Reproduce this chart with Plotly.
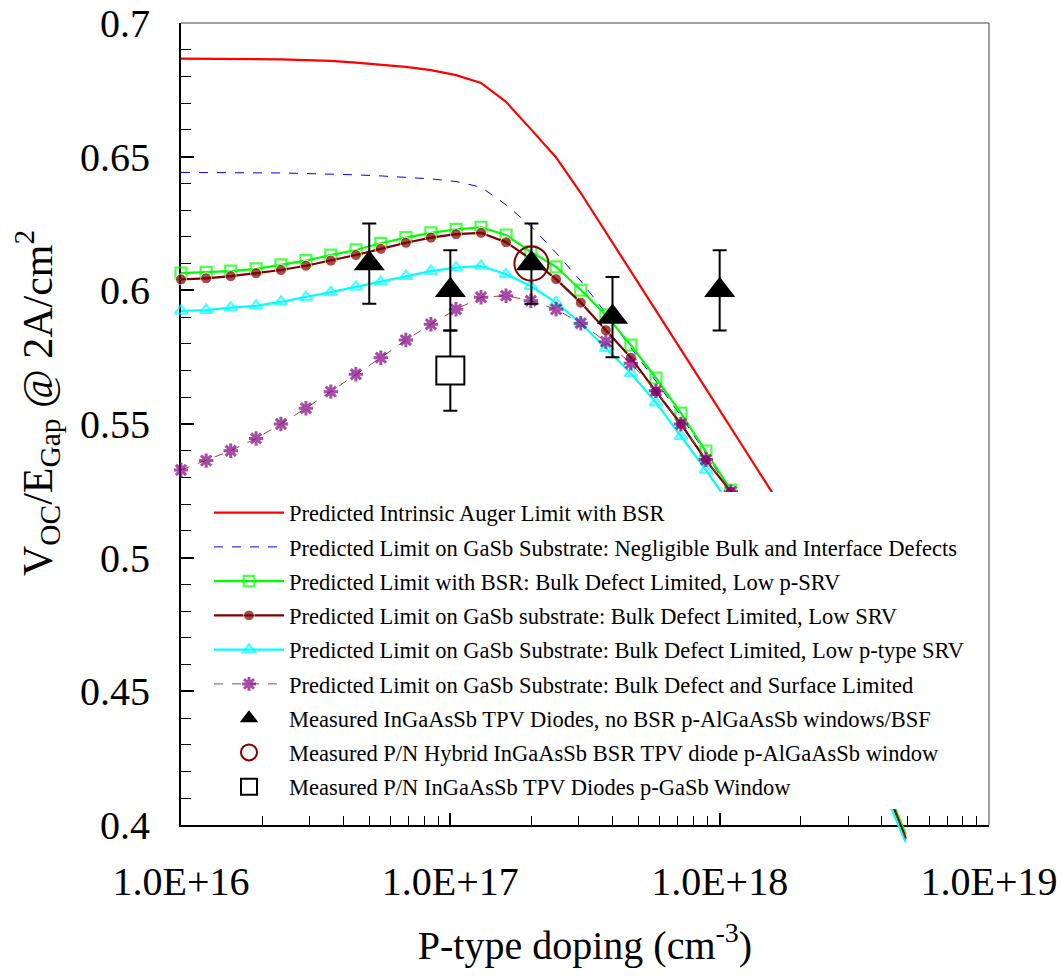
import plotly.graph_objects as go

# ---------------- data ----------------
doping = [1.00e16, 1.24e16, 1.53e16, 1.90e16, 2.35e16, 2.91e16, 3.60e16, 4.46e16,
          5.52e16, 6.84e16, 8.47e16, 1.05e17, 1.30e17, 1.61e17, 1.99e17, 2.47e17,
          3.05e17, 3.78e17, 4.68e17, 5.80e17, 7.18e17, 8.89e17, 1.10e18, 1.36e18,
          1.69e18, 2.09e18, 2.59e18, 3.21e18, 3.97e18, 4.91e18]

auger_bsr = [0.6867, 0.6867, 0.6866, 0.6865, 0.6864, 0.6862, 0.6858, 0.6852,
             0.6845, 0.6836, 0.6824, 0.6805, 0.6776, 0.6705, 0.6603, 0.6497,
             0.6364, 0.6218, 0.6072, 0.5926, 0.5778, 0.5632, 0.5486, 0.5339,
             0.5193, 0.5046]
gasb_negligible = [0.6441, 0.6441, 0.6441, 0.6440, 0.6439, 0.6437, 0.6435, 0.6432,
                   0.6428, 0.6423, 0.6417, 0.6407, 0.6386, 0.6320, 0.6240, 0.6140,
                   0.6035, 0.5915, 0.5785, 0.5660, 0.5530, 0.5390, 0.5245, 0.5095,
                   0.4940, 0.4775, 0.4600, 0.4415, 0.4185, 0.3950]
bsr_bulk_low_psrv = [0.6064, 0.6067, 0.6072, 0.6080, 0.6095, 0.6111, 0.6132, 0.6151,
                     0.6176, 0.6197, 0.6215, 0.6228, 0.6236, 0.6207, 0.6144, 0.6088,
                     0.6001, 0.5908, 0.5795, 0.5672, 0.5541, 0.5399, 0.5253, 0.5100,
                     0.4940, 0.4775, 0.4600, 0.4400, 0.4190, 0.3965]
gasb_bulk_low_srv = [0.6041, 0.6045, 0.6053, 0.6064, 0.6076, 0.6092, 0.6111, 0.6132,
                     0.6155, 0.6178, 0.6197, 0.6210, 0.6215, 0.6180, 0.6117, 0.6042,
                     0.5954, 0.5851, 0.5748, 0.5621, 0.5500, 0.5365, 0.5247, 0.5100,
                     0.4945, 0.4780, 0.4605, 0.4420, 0.4185, 0.3950]
gasb_bulk_low_ptype = [0.5923, 0.5926, 0.5935, 0.5942, 0.5957, 0.5974, 0.5993, 0.6013,
                       0.6032, 0.6053, 0.6072, 0.6085, 0.6091, 0.6060, 0.6016, 0.5954,
                       0.5877, 0.5783, 0.5690, 0.5580, 0.5455, 0.5328, 0.5193, 0.5045,
                       0.4890, 0.4720, 0.4540, 0.4350, 0.4150, 0.3935]
gasb_bulk_surface = [0.5328, 0.5363, 0.5400, 0.5446, 0.5500, 0.5559, 0.5621, 0.5686,
                     0.5748, 0.5814, 0.5873, 0.5929, 0.5974, 0.5980, 0.5961, 0.5929,
                     0.5877, 0.5808, 0.5727, 0.5624, 0.5500, 0.5367, 0.5247, 0.5100,
                     0.4945, 0.4780, 0.4600, 0.4410, 0.4180, 0.3945]

meas_tri_x = [5e16, 1e17, 2e17, 4e17, 1e18]
meas_tri_y = [0.61, 0.60, 0.61, 0.59, 0.60]
meas_tri_err = [0.015, 0.015, 0.015, 0.015, 0.015]
meas_circ_x = [2e17]
meas_circ_y = [0.61]
meas_sq_x = [1e17]
meas_sq_y = [0.57]
meas_sq_err = [0.015]

x_tickvals = [1e16, 1e17, 1e18, 1e19]
x_ticktext = ["1.0E+16", "1.0E+17", "1.0E+18", "1.0E+19"]
y_tickvals = [0.4, 0.45, 0.5, 0.55, 0.6, 0.65, 0.7]
y_ticktext = ["0.4", "0.45", "0.5", "0.55", "0.6", "0.65", "0.7"]

x_title = "P-type doping (cm<sup>-3</sup>)"
y_title = "V<sub>OC</sub>/E<sub>Gap</sub> @ 2A/cm<sup>2</sup>"

names = [
    "Predicted Intrinsic Auger Limit with BSR",
    "Predicted Limit on GaSb Substrate: Negligible Bulk and Interface Defects",
    "Predicted Limit with BSR: Bulk Defect Limited, Low p-SRV",
    "Predicted Limit on GaSb substrate: Bulk Defect Limited, Low SRV",
    "Predicted Limit on GaSb Substrate: Bulk Defect Limited, Low p-type SRV",
    "Predicted Limit on GaSb Substrate: Bulk Defect and Surface Limited",
    "Measured InGaAsSb TPV Diodes, no BSR p-AlGaAsSb windows/BSF",
    "Measured P/N Hybrid InGaAsSb BSR TPV diode p-AlGaAsSb window",
    "Measured P/N InGaAsSb TPV Diodes p-GaSb Window",
]

FONT = "Liberation Serif"

# ---------------- layout geometry ----------------
W, H = 1062, 976
ML, MR, MT = 181, 73, 23
EXT = 20                      # extra px below the x-axis for curve tails
MB = 151 - EXT
plot_w = W - ML - MR          # 808
plot_h = H - MT - MB          # 822
y_lo, y_hi = 0.4, 0.7
y2_lo = y_lo - EXT * (y_hi - y_lo) / (plot_h - EXT)


def msizes(n, s):
    out = [s] * n
    out[-1] = 0
    return out


fig = go.Figure()

# empty trace so that the visible axes (x/y) get drawn
fig.add_trace(go.Scatter(x=[], y=[], xaxis="x", yaxis="y", showlegend=False,
                         hoverinfo="skip"))

common = dict(xaxis="x2", yaxis="y2", cliponaxis=False, mode="lines+markers")

fig.add_trace(go.Scatter(x=doping[:len(auger_bsr)], y=auger_bsr, name=names[0],
                         mode="lines", line=dict(color="#ff0000", width=2.2),
                         xaxis="x2", yaxis="y2", legendgroup="g0"))
fig.add_trace(go.Scatter(x=doping, y=gasb_negligible, name=names[1],
                         mode="lines", line=dict(color="#0000ff", width=1, dash="dash"),
                         xaxis="x2", yaxis="y2", legendgroup="g1"))
fig.add_trace(go.Scatter(x=doping, y=bsr_bulk_low_psrv, name=names[2], **common,
                         line=dict(color="#00ff00", width=2.2),
                         marker=dict(symbol="square-open", size=msizes(len(doping), 11),
                                     color="#00ff00", line=dict(width=2.2, color="#00ff00")),
                         legendgroup="g2"))
fig.add_trace(go.Scatter(x=doping, y=gasb_bulk_low_srv, name=names[3], **common,
                         line=dict(color="#800000", width=2.2),
                         marker=dict(symbol="circle", size=msizes(len(doping), 11),
                                     color="#800000"),
                         legendgroup="g3"))
fig.add_trace(go.Scatter(x=doping, y=gasb_bulk_low_ptype, name=names[4], **common,
                         line=dict(color="#00ffff", width=2.2),
                         marker=dict(symbol="triangle-up-open", size=msizes(len(doping), 11),
                                     color="#00ffff", line=dict(width=2.2, color="#00ffff")),
                         legendgroup="g4"))
fig.add_trace(go.Scatter(x=doping, y=gasb_bulk_surface, name=names[5], **common,
                         line=dict(color="#a04040", width=1, dash="dash"),
                         marker=dict(symbol="asterisk-open", size=msizes(len(doping), 12),
                                     color="#800080", line=dict(width=3, color="#800080")),
                         legendgroup="g5"))
fig.add_trace(go.Scatter(x=meas_tri_x, y=meas_tri_y, name=names[6], mode="markers",
                         xaxis="x2", yaxis="y2", cliponaxis=False,
                         marker=dict(symbol="triangle-up", size=27, color="black"),
                         error_y=dict(type="data", array=meas_tri_err, color="black",
                                      thickness=2, width=7),
                         legendgroup="g6"))
fig.add_trace(go.Scatter(x=meas_circ_x, y=meas_circ_y, name=names[7], mode="markers",
                         xaxis="x2", yaxis="y2", cliponaxis=False,
                         marker=dict(symbol="circle-open", size=34, color="#800000",
                                     line=dict(width=2, color="#800000")),
                         legendgroup="g7"))
fig.add_trace(go.Scatter(x=meas_sq_x, y=meas_sq_y, name=names[8], mode="markers",
                         xaxis="x2", yaxis="y2", cliponaxis=False,
                         marker=dict(symbol="square", size=28, color="white",
                                     line=dict(width=2, color="black")),
                         error_y=dict(type="data", array=meas_sq_err, color="black",
                                      thickness=2, width=7),
                         legendgroup="g8"))

minor_x = [m * 10 ** e for e in (16, 17, 18) for m in range(2, 10)]

fig.update_layout(
    width=W, height=H,
    margin=dict(l=ML, r=MR, t=MT, b=MB, pad=0, autoexpand=False),
    paper_bgcolor="white", plot_bgcolor="rgba(0,0,0,0)",
    font=dict(family=FONT, color="black"),
    xaxis=dict(type="log", range=[16, 19], domain=[0, 1], anchor="y",
               automargin=False,
               tickvals=x_tickvals, ticktext=x_ticktext,
               ticks="inside", ticklen=12, tickwidth=1.5, tickcolor="black",
               minor=dict(tickvals=minor_x, ticks="inside", ticklen=9,
                          tickwidth=1.2, tickcolor="black", showgrid=False),
               showline=True, linecolor="black", linewidth=2,
               showgrid=False, zeroline=False,
               tickfont=dict(family=FONT, size=40, color="black"),
               ticklabelstandoff=20,
               title=dict(text=x_title,
                          font=dict(family=FONT, size=40, color="black"),
                          standoff=28)),
    yaxis=dict(range=[y_lo, y_hi], domain=[EXT / plot_h, 1], anchor="x",
               automargin=False,
               tickvals=y_tickvals, ticktext=y_ticktext,
               ticks="inside", ticklen=13, tickwidth=1.5, tickcolor="black",
               minor=dict(dtick=0.01, ticks="inside", ticklen=10,
                          tickwidth=1.2, tickcolor="black", showgrid=False),
               showline=True, linecolor="black", linewidth=2,
               showgrid=False, zeroline=False,
               tickfont=dict(family=FONT, size=40, color="black"),
               ticklabelstandoff=21),
    xaxis2=dict(type="log", range=[16, 19], domain=[0, 1], anchor="y2",
                visible=False, automargin=False),
    yaxis2=dict(range=[y2_lo, y_hi], domain=[0, 1], anchor="x2", visible=False,
                automargin=False),
    legend=dict(x=(209 - ML) / plot_w, y=(H - MB - 491.5) / plot_h,
                xanchor="left", yanchor="top",
                bgcolor="white", borderwidth=0,
                font=dict(family=FONT, size=22.5, color="black"),
                itemwidth=70, tracegroupgap=2, traceorder="grouped"),
    showlegend=True,
    annotations=[
        dict(text=y_title, textangle=-90, xref="paper", yref="paper",
             x=(37 - ML) / plot_w, y=(H - MB - 403) / plot_h,
             xanchor="center", yanchor="middle", showarrow=False,
             font=dict(family=FONT, size=42, color="black")),
    ],
    shapes=[
        dict(type="line", xref="x domain", yref="y domain", x0=0, x1=1, y0=1, y1=1,
             line=dict(color="#808080", width=1.5), layer="below"),
        dict(type="line", xref="x domain", yref="y domain", x0=1, x1=1, y0=0, y1=1,
             line=dict(color="#808080", width=1.5), layer="below"),
    ],
)

fig.write_html("out.html")
